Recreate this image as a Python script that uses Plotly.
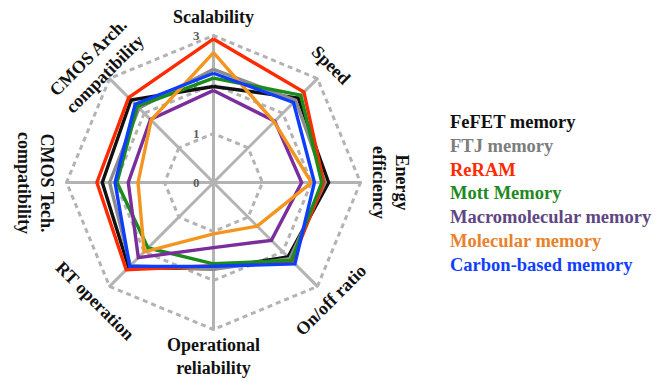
import math
import plotly.graph_objects as go

# Radar axes, clockwise from the top
axes = ["Scalability", "Speed", "Energy efficiency", "On/off ratio",
        "Operational reliability", "RT operation",
        "CMOS Tech. compatibility", "CMOS Arch. compatibility"]
axis_labels = ["Scalability", "Speed", "Energy<br>efficiency", "On/off ratio",
               "Operational<br>reliability", "RT operation",
               "CMOS Tech.<br>compatibility", "CMOS Arch.<br>compatibility"]

series_names = ["FeFET memory", "FTJ memory", "ReRAM", "Mott Memory",
                "Macromolecular memory", "Molecular memory", "Carbon-based memory"]

fefet = [1.96, 2.44, 2.35, 2.15, 1.76, 2.45, 2.27, 2.38]
ftj = [2.31, 2.37, 2.28, 2.20, 1.77, 2.40, 2.12, 2.15]
reram = [2.93, 2.61, 2.25, 2.27, 1.70, 2.52, 2.38, 2.45]
mott = [2.13, 2.52, 2.21, 2.25, 1.66, 1.89, 1.97, 2.20]
macromolecular = [1.88, 1.77, 1.80, 1.67, 1.33, 2.17, 1.74, 1.82]
molecular = [2.65, 1.75, 2.00, 1.26, 1.05, 2.00, 1.54, 1.80]
carbon = [2.23, 2.31, 2.06, 2.35, 1.71, 2.42, 2.01, 2.26]

radial_ticks = [0, 1, 2, 3]

series_values = [fefet, ftj, reram, mott, macromolecular, molecular, carbon]
line_colors = ["#111111", "#8c8c8c", "#ff2a00", "#1a8c1a", "#7a2d9c", "#f3951f", "#0d3dff"]
text_colors = ["#111111", "#7d7d7d", "#ff2a00", "#1f8a1f", "#5e4682", "#e8822c", "#1040ff"]

W, H = 655, 381
CX, CY, R = 213.5, 182.5, 148.0  # polar centre and outer radius in px
FONT = "Liberation Serif"
grid_col = "#b3b3b3"
grid_dash = "5px,4px"

# a hair above the last tick so its dashed ring is still drawn
r_max = radial_ticks[-1] * 1.007

fig = go.Figure()
for name, vals, col in zip(series_names, series_values, line_colors):
    fig.add_trace(go.Scatterpolar(
        r=vals + vals[:1], theta=axes + axes[:1], name=name, mode="lines",
        line=dict(color=col, width=3.4), showlegend=False,
    ))

fig.update_layout(
    width=W, height=H, margin=dict(l=0, r=0, t=0, b=0),
    paper_bgcolor="white", showlegend=False,
    polar=dict(
        domain=dict(x=[(CX - R) / W, (CX + R) / W],
                    y=[(H - CY - R) / H, (H - CY + R) / H]),
        bgcolor="white",
        gridshape="linear",
        radialaxis=dict(range=[0, r_max], tickvals=radial_ticks,
                        ticktext=[str(v) for v in radial_ticks],
                        angle=90, side="counterclockwise", showline=False,
                        gridcolor=grid_col, gridwidth=2.5, griddash=grid_dash,
                        layer="below traces", ticks="outside", ticklen=9,
                        tickcolor="rgba(0,0,0,0)", tickangle=90,
                        tickfont=dict(family=FONT, size=13, color="#5e5e5e", weight="bold")),
        angularaxis=dict(rotation=90, direction="clockwise", showticklabels=False,
                         ticks="", gridcolor=grid_col, gridwidth=2.5,
                         showline=False, layer="below traces"),
    ),
)

# Category labels around the chart, rotated along the polygon
label_dist = [165, 166, 177, 166, 174, 167, 178, 166]
label_rot = [0, 45, 90, -45, 0, 45, 90, -45]
for i, (txt, d, rot) in enumerate(zip(axis_labels, label_dist, label_rot)):
    th = math.radians(45 * i)
    px = CX + d * math.sin(th)
    py = CY - d * math.cos(th)
    fig.add_annotation(x=px / W, y=1 - py / H, xref="paper", yref="paper",
                       text=txt, showarrow=False, textangle=rot,
                       xanchor="center", yanchor="middle",
                       font=dict(family=FONT, size=18, color="#111111", weight="bold"))

# Legend as coloured text
for i, (name, col) in enumerate(zip(series_names, text_colors)):
    py = 121.7 + 23.9 * i
    fig.add_annotation(x=448 / W, y=1 - py / H, xref="paper", yref="paper",
                       text=name, showarrow=False, xanchor="left", yanchor="middle",
                       font=dict(family=FONT, size=18.5, color=col, weight="bold"))

fig.write_html("out.html")
